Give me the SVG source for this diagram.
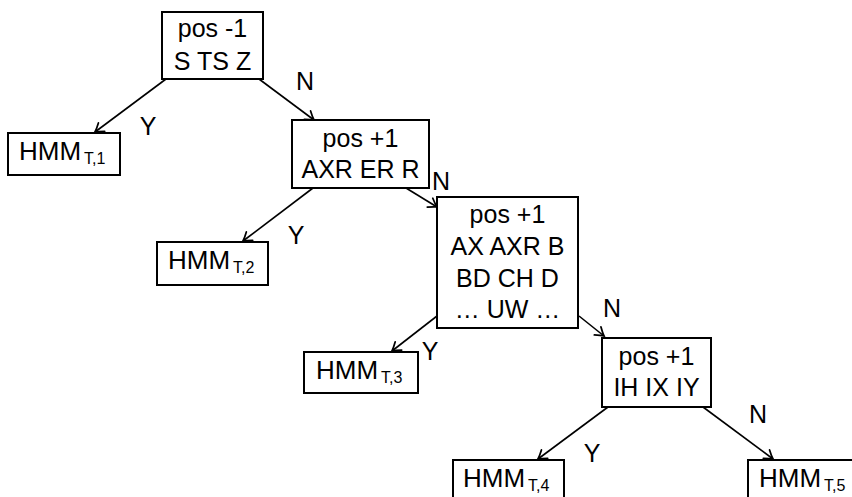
<svg xmlns="http://www.w3.org/2000/svg" width="852" height="497" viewBox="0 0 852 497">
  <style>
    text { font-family: "Liberation Sans", Arial, sans-serif; fill: #000; }
    .box { fill: #fff; stroke: #000; stroke-width: 2; }
    .q { font-size: 25px; text-anchor: middle; }
    .leaf { font-size: 26px; }
    .sub { font-size: 16px; }
    .lbl { font-size: 25px; text-anchor: middle; }
    .edge { fill: none; stroke: #000; stroke-width: 1.6; marker-end: url(#tip); }
  </style>
  <defs>
    <marker id="tip" markerUnits="userSpaceOnUse" markerWidth="14" markerHeight="14" viewBox="-8 -6 10 12" refX="0" refY="0" orient="auto">
      <path d="M -7,-4.5 Q -2.5,-1.2 0,0 Q -2.5,1.2 -7,4.5" fill="none" stroke="#000" stroke-width="1.5" stroke-linecap="round"/>
    </marker>
  </defs>

  <g id="connectors">
    <path class="edge" d="M 166,79 L 95,132"/>
    <path class="edge" d="M 259,79 L 314,120"/>
    <path class="edge" d="M 313,188 L 243,241"/>
    <path class="edge" d="M 406,188 L 437,207"/>
    <path class="edge" d="M 437,316 L 392,351"/>
    <path class="edge" d="M 579,316 L 604,336"/>
    <path class="edge" d="M 608,407 L 538,459"/>
    <path class="edge" d="M 703,407 L 773,459"/>
    <text class="lbl" x="148" y="135">Y</text>
    <text class="lbl" x="305" y="90">N</text>
    <text class="lbl" x="296" y="244">Y</text>
    <text class="lbl" x="441" y="190">N</text>
    <text class="lbl" x="430" y="360">Y</text>
    <text class="lbl" x="612" y="317">N</text>
    <text class="lbl" x="592" y="462">Y</text>
    <text class="lbl" x="758" y="423">N</text>
  </g>

  <g id="q1">
    <rect class="box" x="162" y="12" width="101" height="67"/>
    <text class="q" x="212.5" y="37">pos -1</text>
    <text class="q" x="212.5" y="70">S TS Z</text>
  </g>

  <g id="q2">
    <rect class="box" x="292" y="120" width="137" height="68"/>
    <text class="q" x="360.5" y="147">pos +1</text>
    <text class="q" x="360.5" y="178">AXR ER R</text>
  </g>

  <g id="q3">
    <rect class="box" x="437" y="197" width="141" height="131"/>
    <text class="q" x="507.5" y="223">pos +1</text>
    <text class="q" x="507.5" y="255">AX AXR B</text>
    <text class="q" x="507.5" y="287">BD CH D</text>
    <text class="q" x="507.5" y="318">… UW …</text>
  </g>

  <g id="q4">
    <rect class="box" x="602" y="338" width="109" height="69"/>
    <text class="q" x="656.5" y="365">pos +1</text>
    <text class="q" x="656.5" y="396">IH IX IY</text>
  </g>

  <g id="hmm1">
    <rect class="box" x="8" y="133" width="112" height="42"/>
    <text class="leaf" x="19" y="160">HMM<tspan class="sub" dx="3" dy="4">T,1</tspan></text>
  </g>

  <g id="hmm2">
    <rect class="box" x="157" y="242" width="111" height="43"/>
    <text class="leaf" x="168" y="269">HMM<tspan class="sub" dx="3" dy="4">T,2</tspan></text>
  </g>

  <g id="hmm3">
    <rect class="box" x="304" y="352" width="114" height="41"/>
    <text class="leaf" x="316" y="379">HMM<tspan class="sub" dx="3" dy="4">T,3</tspan></text>
  </g>

  <g id="hmm4">
    <rect class="box" x="453" y="460" width="111" height="42"/>
    <text class="leaf" x="463" y="487">HMM<tspan class="sub" dx="3" dy="4">T,4</tspan></text>
  </g>

  <g id="hmm5">
    <rect class="box" x="748" y="460" width="112" height="42"/>
    <text class="leaf" x="759" y="487">HMM<tspan class="sub" dx="3" dy="4">T,5</tspan></text>
  </g>
</svg>
